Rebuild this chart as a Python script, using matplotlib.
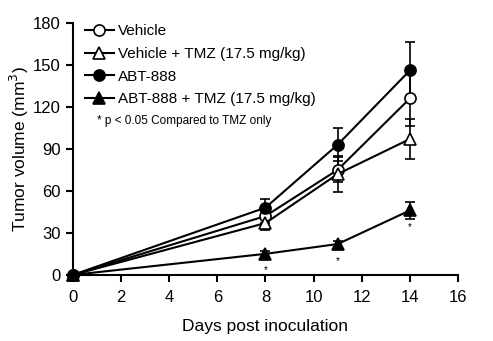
import matplotlib.pyplot as plt
import numpy as np

plt.rcParams["font.family"] = ["Liberation Sans", "DejaVu Sans"]

days = [0, 8, 11, 14]

vehicle = [0, 42, 75, 126]
vehicle_err = [0, 5, 9, 20]
vehicle_tmz = [0, 37, 72, 97]
vehicle_tmz_err = [0, 5, 13, 14]
abt = [0, 48, 93, 146]
abt_err = [0, 6, 12, 20]
abt_tmz = [0, 15, 22, 46]
abt_tmz_err = [0, 2, 2, 6]

sig_days = [8, 11, 14]

fig = plt.figure(figsize=(4.93, 3.41), dpi=100)
ax = fig.add_axes([0.148, 0.194, 0.781, 0.739])

series = [
    ("Vehicle", vehicle, vehicle_err, "o", "white"),
    ("Vehicle + TMZ (17.5 mg/kg)", vehicle_tmz, vehicle_tmz_err, "^", "white"),
    ("ABT-888", abt, abt_err, "o", "black"),
    ("ABT-888 + TMZ (17.5 mg/kg)", abt_tmz, abt_tmz_err, "^", "black"),
]

handles = []
for label, y, err, m, fc in series:
    ax.errorbar(days, y, yerr=err, fmt="none", ecolor="black", capsize=3.5,
                elinewidth=1.2, capthick=1.2, clip_on=False, zorder=2)
    h, = ax.plot(days, y, color="black", lw=1.5, marker=m, markersize=8,
                 markerfacecolor=fc, markeredgecolor="black",
                 markeredgewidth=1.2, label=label, clip_on=False, zorder=3)
    handles.append(h)

# significance stars below ABT-888 + TMZ points
for d in sig_days:
    yv = abt_tmz[days.index(d)]
    ax.annotate("*", (d, yv), xytext=(0, -12), textcoords="offset points",
                ha="center", va="center", fontsize=7)

ax.set_xlim(0, 16)
ax.set_ylim(0, 180)
ax.set_xticks(np.arange(0, 17, 2))
ax.set_yticks(np.arange(0, 181, 30))
ax.spines["top"].set_visible(False)
ax.spines["right"].set_visible(False)
ax.spines["left"].set_linewidth(1.5)
ax.spines["bottom"].set_linewidth(1.5)
ax.tick_params(direction="out", length=5, width=1.5, labelsize=12, pad=4)
ax.tick_params(axis="x", pad=6)
ax.set_xlabel("Days post inoculation", fontsize=12.5, labelpad=10)
ax.set_ylabel("Tumor volume (mm$^3$)", fontsize=12.5, labelpad=1)

ax.legend(handles=handles, loc="upper left", bbox_to_anchor=(0.015, 1.018),
          frameon=False, fontsize=11, handlelength=1.9, handletextpad=0.25,
          labelspacing=0.56, borderaxespad=0)
ax.text(0.062, 0.61, "* p < 0.05 Compared to TMZ only", transform=ax.transAxes,
        fontsize=8.5, ha="left", va="center")

fig.savefig("out.png", dpi=100)
